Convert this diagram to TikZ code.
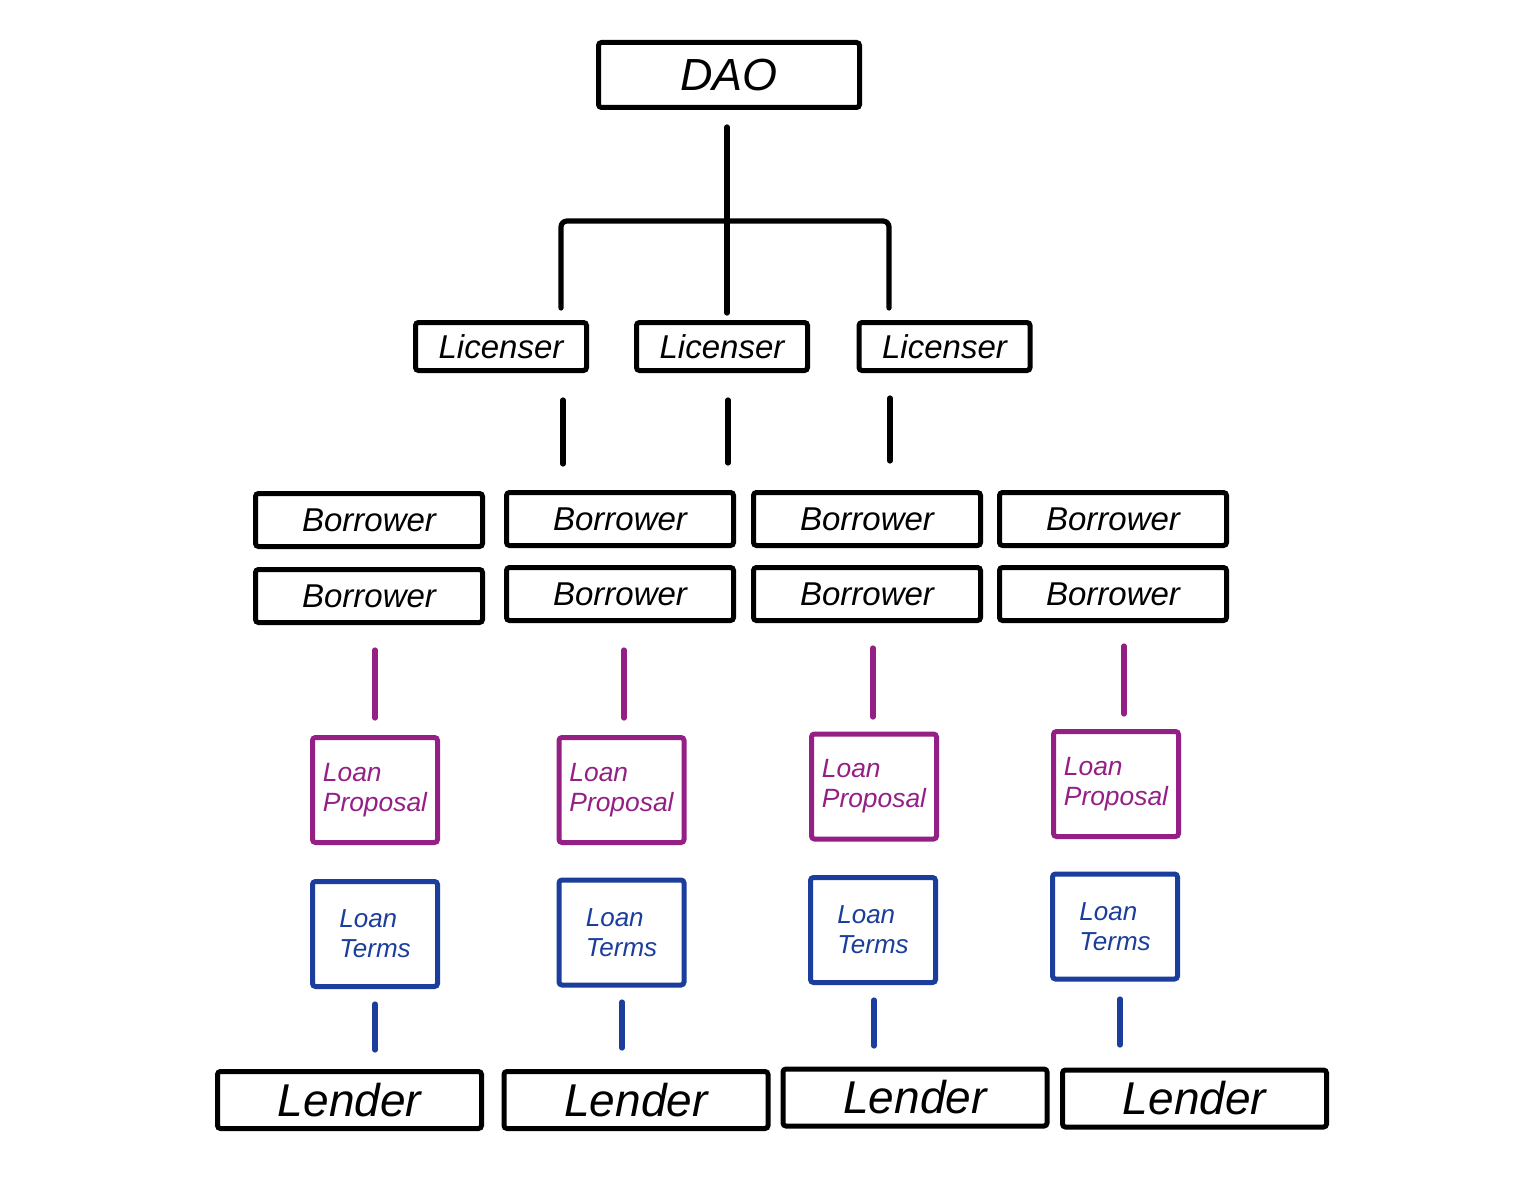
\documentclass[tikz,border=0pt]{standalone}
\usepackage{fontspec}
\setmainfont{Liberation Sans}
\definecolor{lpurple}{RGB}{148,32,134}
\definecolor{lblue}{RGB}{27,61,155}
\begin{document}
\begin{tikzpicture}[x=0.5pt,y=-0.5pt,
  box/.style={draw, line width=2.5pt, rounded corners=1.5pt, inner sep=0pt, fill=white},
  daobox/.style={box, minimum width=130.5pt, minimum height=32.5pt, font=\fontsize{22.5}{26}\selectfont\itshape},
  licbox/.style={box, minimum width=85.5pt, minimum height=24pt, font=\fontsize{16.5}{19}\selectfont\itshape},
  borbox/.style={box, minimum width=113.5pt, minimum height=26.5pt, font=\fontsize{16.5}{19}\selectfont\itshape},
  propbox/.style={box, draw=lpurple, text=lpurple, minimum width=62.5pt, minimum height=52.5pt, align=left, font=\fontsize{13.2}{15}\selectfont\itshape},
  termbox/.style={box, draw=lblue, text=lblue, minimum width=62.5pt, minimum height=52.5pt, align=left, font=\fontsize{13}{15}\selectfont\itshape},
  lendbox/.style={box, minimum width=132pt, minimum height=28.5pt, font=\fontsize{23}{27}\selectfont\itshape},
  conn/.style={line width=2.6pt, line cap=round},
  pconn/.style={conn, draw=lpurple},
  bconn/.style={conn, draw=lblue}]
\useasboundingbox[fill=white] (0,0) rectangle (1524,1182);

% nodes
\node[daobox] (dao) at (729,75) {DAO};
\node[licbox] (lic1) at (501,346.5) {Licenser};
\node[licbox] (lic2) at (722,346.5) {Licenser};
\node[licbox] (lic3) at (944.5,346.5) {Licenser};

\node[borbox] (b11) at (369,520) {Borrower};
\node[borbox] (b12) at (620,519) {Borrower};
\node[borbox] (b13) at (867,519) {Borrower};
\node[borbox] (b14) at (1113,519) {Borrower};
\node[borbox] (b21) at (369,596) {Borrower};
\node[borbox] (b22) at (620,594) {Borrower};
\node[borbox] (b23) at (867,594) {Borrower};
\node[borbox] (b24) at (1113,594) {Borrower};

\node[propbox] (p1) at (375,790) {Loan\\Proposal};
\node[propbox] (p2) at (621.5,790) {Loan\\Proposal};
\node[propbox] (p3) at (874,786.5) {Loan\\Proposal};
\node[propbox] (p4) at (1116,784) {Loan\\Proposal};

\node[termbox] (t1) at (375,934) {Loan\\Terms};
\node[termbox] (t2) at (621.5,932.5) {Loan\\Terms};
\node[termbox] (t3) at (873,930) {Loan\\Terms};
\node[termbox] (t4) at (1115,926.5) {Loan\\Terms};

\node[lendbox] (l1) at (349.5,1100) {Lender};
\node[lendbox] (l2) at (636,1100) {Lender};
\node[lendbox] (l3) at (915,1097.5) {Lender};
\node[lendbox] (l4) at (1194.5,1098.5) {Lender};

% tree coordinates
\coordinate (daoout) at (727,127);
\coordinate (jl) at (561,221);
\coordinate (jr) at (889,221);
\coordinate (lic1in) at (561,308);
\coordinate (lic2in) at (727,313);
\coordinate (lic3in) at (889,308);
\draw[conn] (daoout) -- (lic2in);
\draw[conn, rounded corners=3pt] (lic1in) -- (jl) -- (jr) -- (lic3in);

% licenser to borrower
\coordinate (a1) at (563,400); \coordinate (a1e) at (563,464);
\coordinate (a2) at (728,400); \coordinate (a2e) at (728,463);
\coordinate (a3) at (890,398); \coordinate (a3e) at (890,461);
\draw[conn] (a1) -- (a1e);
\draw[conn] (a2) -- (a2e);
\draw[conn] (a3) -- (a3e);

% borrower to proposal
\coordinate (q1) at (375,650); \coordinate (q1e) at (375,718);
\coordinate (q2) at (624,650); \coordinate (q2e) at (624,718);
\coordinate (q3) at (873,648); \coordinate (q3e) at (873,717);
\coordinate (q4) at (1124,646); \coordinate (q4e) at (1124,714);
\draw[pconn] (q1) -- (q1e);
\draw[pconn] (q2) -- (q2e);
\draw[pconn] (q3) -- (q3e);
\draw[pconn] (q4) -- (q4e);

% terms to lender
\coordinate (r1) at (375,1004); \coordinate (r1e) at (375,1050);
\coordinate (r2) at (622,1002); \coordinate (r2e) at (622,1048);
\coordinate (r3) at (874,1000); \coordinate (r3e) at (874,1046);
\coordinate (r4) at (1120,999); \coordinate (r4e) at (1120,1045);
\draw[bconn] (r1) -- (r1e);
\draw[bconn] (r2) -- (r2e);
\draw[bconn] (r3) -- (r3e);
\draw[bconn] (r4) -- (r4e);
\end{tikzpicture}
\end{document}
